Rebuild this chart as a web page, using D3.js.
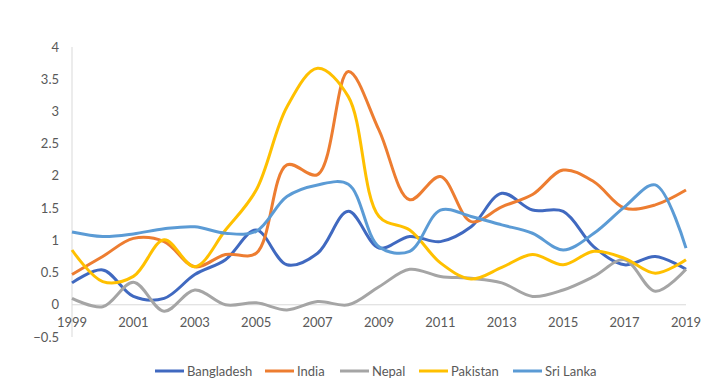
<!DOCTYPE html>
<html>
<head>
<meta charset="utf-8">
<script src="https://cdn.jsdelivr.net/npm/d3@7"></script>
<style>
  body { margin: 0; background: #fff; }
  svg text { font-family: Lato, "Open Sans", sans-serif; fill: #595959; }
</style>
</head>
<body>
<div id="chart"></div>
<script>
const years = d3.range(1999, 2020);
const yTicks = [-0.5, 0, 0.5, 1, 1.5, 2, 2.5, 3, 3.5, 4];
const xTicks = d3.range(1999, 2020, 2);

const countries = ['Bangladesh', 'India', 'Nepal', 'Pakistan', 'Sri Lanka'];
const colors = ['#4069C0', '#ED7D31', '#A5A5A5', '#FFC000', '#5B9BD5'];

const bangladesh = [0.34, 0.54, 0.13, 0.10, 0.47, 0.70, 1.16, 0.62, 0.80, 1.45, 0.88, 1.06, 0.98, 1.21, 1.73, 1.47, 1.45, 0.90, 0.62, 0.75, 0.55];
const india      = [0.47, 0.75, 1.03, 0.98, 0.59, 0.78, 0.80, 2.17, 2.02, 3.62, 2.71, 1.63, 1.99, 1.29, 1.52, 1.71, 2.09, 1.91, 1.50, 1.55, 1.78];
const nepal      = [0.10, -0.03, 0.35, -0.10, 0.23, 0.00, 0.03, -0.08, 0.05, 0.00, 0.28, 0.55, 0.44, 0.41, 0.34, 0.13, 0.23, 0.44, 0.70, 0.21, 0.55];
const pakistan   = [0.85, 0.36, 0.44, 1.01, 0.59, 1.16, 1.78, 3.07, 3.67, 3.23, 1.37, 1.16, 0.65, 0.40, 0.58, 0.78, 0.62, 0.83, 0.72, 0.49, 0.70];
const sriLanka   = [1.13, 1.06, 1.10, 1.18, 1.21, 1.11, 1.14, 1.68, 1.86, 1.87, 0.90, 0.83, 1.47, 1.37, 1.24, 1.11, 0.85, 1.11, 1.52, 1.86, 0.88];
const seriesValues = [bangladesh, india, nepal, pakistan, sriLanka];

const W = 719, H = 382;
const m = { t: 47, r: 33, b: 45, l: 72 };
const x = d3.scaleLinear().domain([1999, 2019]).range([m.l, W - m.r]);
const y = d3.scaleLinear().domain([-0.5, 4]).range([H - m.b, m.t]);

const svg = d3.select('#chart').append('svg').attr('width', W).attr('height', H);

// axes
svg.append('line').attr('x1', x(1999)).attr('x2', x(1999))
  .attr('y1', y(4)).attr('y2', y(-0.5)).attr('stroke', '#d9d9d9');
svg.append('line').attr('x1', x(1999)).attr('x2', x(2019))
  .attr('y1', y(0)).attr('y2', y(0)).attr('stroke', '#d9d9d9');

svg.append('g').selectAll('text').data(yTicks).join('text')
  .attr('x', 59).attr('y', d => y(d)).attr('dy', '0.35em')
  .attr('text-anchor', 'end').attr('font-size', 13)
  .text(d => d < 0 ? '\u22120.5' : d);

svg.append('g').selectAll('text').data(xTicks).join('text')
  .attr('x', d => x(d)).attr('y', y(0) + 22)
  .attr('text-anchor', 'middle').attr('font-size', 13)
  .text(d => d);

const line = d3.line().x((d, i) => x(years[i])).y(d => y(d)).curve(d3.curveCatmullRom.alpha(0.5));

svg.append('g').selectAll('path').data(seriesValues).join('path')
  .attr('d', line).attr('fill', 'none')
  .attr('stroke', (d, i) => colors[i]).attr('stroke-width', 3)
  .attr('stroke-linejoin', 'round');

// legend
const legX = [155, 265, 340, 419, 513];
const leg = svg.append('g').selectAll('g').data(countries).join('g')
  .attr('transform', (d, i) => `translate(${legX[i]},371)`);
leg.append('line').attr('x1', 0).attr('x2', 29).attr('stroke', (d, i) => colors[i]).attr('stroke-width', 3);
leg.append('text').attr('x', 32).attr('dy', '0.35em').attr('font-size', 13).text(d => d);
</script>
</body>
</html>
